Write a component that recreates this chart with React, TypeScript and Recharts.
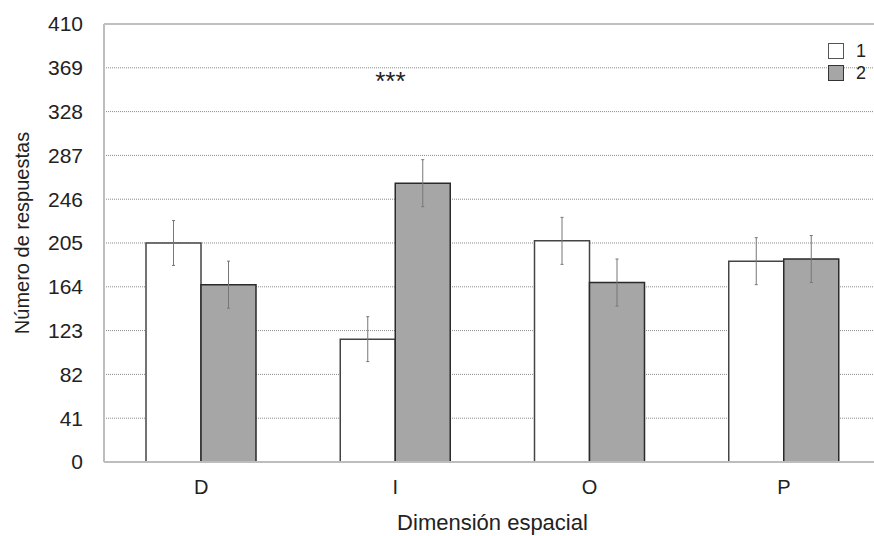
import React from 'react';
import { BarChart, Bar, XAxis, YAxis, CartesianGrid, ErrorBar, Legend, ReferenceDot, ReferenceLine, Label } from 'recharts';

const categories = ['D', 'I', 'O', 'P'];
const series1 = [205, 115, 207, 188];
const series2 = [166, 261, 168, 190];
const error1 = [21, 21, 22, 22];
const error2 = [22, 22, 22, 22];
const yTicks = [0, 41, 82, 123, 164, 205, 246, 287, 328, 369, 410];
const seriesNames = ['1', '2'];

const data = categories.map((c, i) => ({
  cat: c,
  s1: series1[i],
  s2: series2[i],
  e1: error1[i],
  e2: error2[i],
}));

const FONT = '"Liberation Sans", Arial, sans-serif';
const GRAY = '#a6a6a6';

const LegendContent = () => (
  <div style={{ fontFamily: FONT, fontSize: 18, color: '#222', lineHeight: '22px' }}>
    {seriesNames.map((n, i) => (
      <div key={n} style={{ display: 'flex', alignItems: 'center', height: 22 }}>
        <span
          style={{
            display: 'inline-block',
            width: 14,
            height: 14,
            background: i === 0 ? '#fff' : GRAY,
            border: i === 0 ? '1px solid #555' : '1px solid #333',
            marginRight: 12,
          }}
        />
        <span>{n}</span>
      </div>
    ))}
  </div>
);

const YLabel = (props: any) => {
  const vb = props.viewBox || {};
  const cy = vb.y + vb.height / 2 - 10;
  const cx = 29;
  return (
    <text
      x={cx}
      y={cy}
      transform={`rotate(-90 ${cx} ${cy})`}
      textAnchor="middle"
      fontFamily={FONT}
      fontSize={20}
      fill="#222"
    >
      Número de respuestas
    </text>
  );
};

export default function App() {
  return (
    <div style={{ position: 'absolute', left: 0, top: 0, width: 874, height: 536, overflow: 'hidden', background: '#fff' }}>
      <BarChart
        width={890}
        height={536}
        data={data}
        margin={{ top: 24, right: 9, bottom: 0, left: 0 }}
        barCategoryGap={42}
        barGap={0}
      >
        <CartesianGrid vertical={false} stroke="#8a8a8a" strokeDasharray="1 1" />
        <ReferenceLine y={410} stroke="#c0c0c0" strokeWidth={2} />
        <XAxis
          dataKey="cat"
          height={74}
          tickLine={false}
          tickSize={16}
          tickMargin={2}
          axisLine={{ stroke: '#bdbdbd', strokeWidth: 2 }}
          tick={{ fontFamily: FONT, fontSize: 20, fill: '#222' }}
        >
          <Label
            value="Dimensión espacial"
            position="insideBottom"
            offset={6}
            style={{ fontFamily: FONT, fontSize: 22, fill: '#222' }}
          />
        </XAxis>
        <YAxis
          width={104}
          domain={[0, 410]}
          ticks={yTicks}
          interval={0}
          tickLine={false}
          tickSize={19}
          tickMargin={2}
          axisLine={{ stroke: '#bdbdbd', strokeWidth: 2 }}
          tick={{ fontFamily: FONT, fontSize: 21, fill: '#222' }}
        >
          <Label content={YLabel} />
        </YAxis>
        <Legend
          layout="vertical"
          align="center"
          verticalAlign="middle"
          content={LegendContent}
          wrapperStyle={{ position: 'absolute', left: 828, top: 40, width: 60, height: 44 }}
        />
        <Bar dataKey="s1" name={seriesNames[0]} fill="#ffffff" stroke="#444" strokeWidth={1.5} isAnimationActive={false}>
          <ErrorBar dataKey="e1" width={1.5} stroke="#777" strokeWidth={1} />
        </Bar>
        <Bar dataKey="s2" name={seriesNames[1]} fill={GRAY} stroke="#2a2a2a" strokeWidth={1.5} isAnimationActive={false}>
          <ErrorBar dataKey="e2" width={1.5} stroke="#777" strokeWidth={1} />
        </Bar>
        <ReferenceDot
          x="I"
          y={357}
          r={0}
          stroke="none"
          fill="none"
          label={{ value: '***', position: 'center', fontFamily: FONT, fontSize: 26, fill: '#222', dx: -5 }}
        />
      </BarChart>
    </div>
  );
}
